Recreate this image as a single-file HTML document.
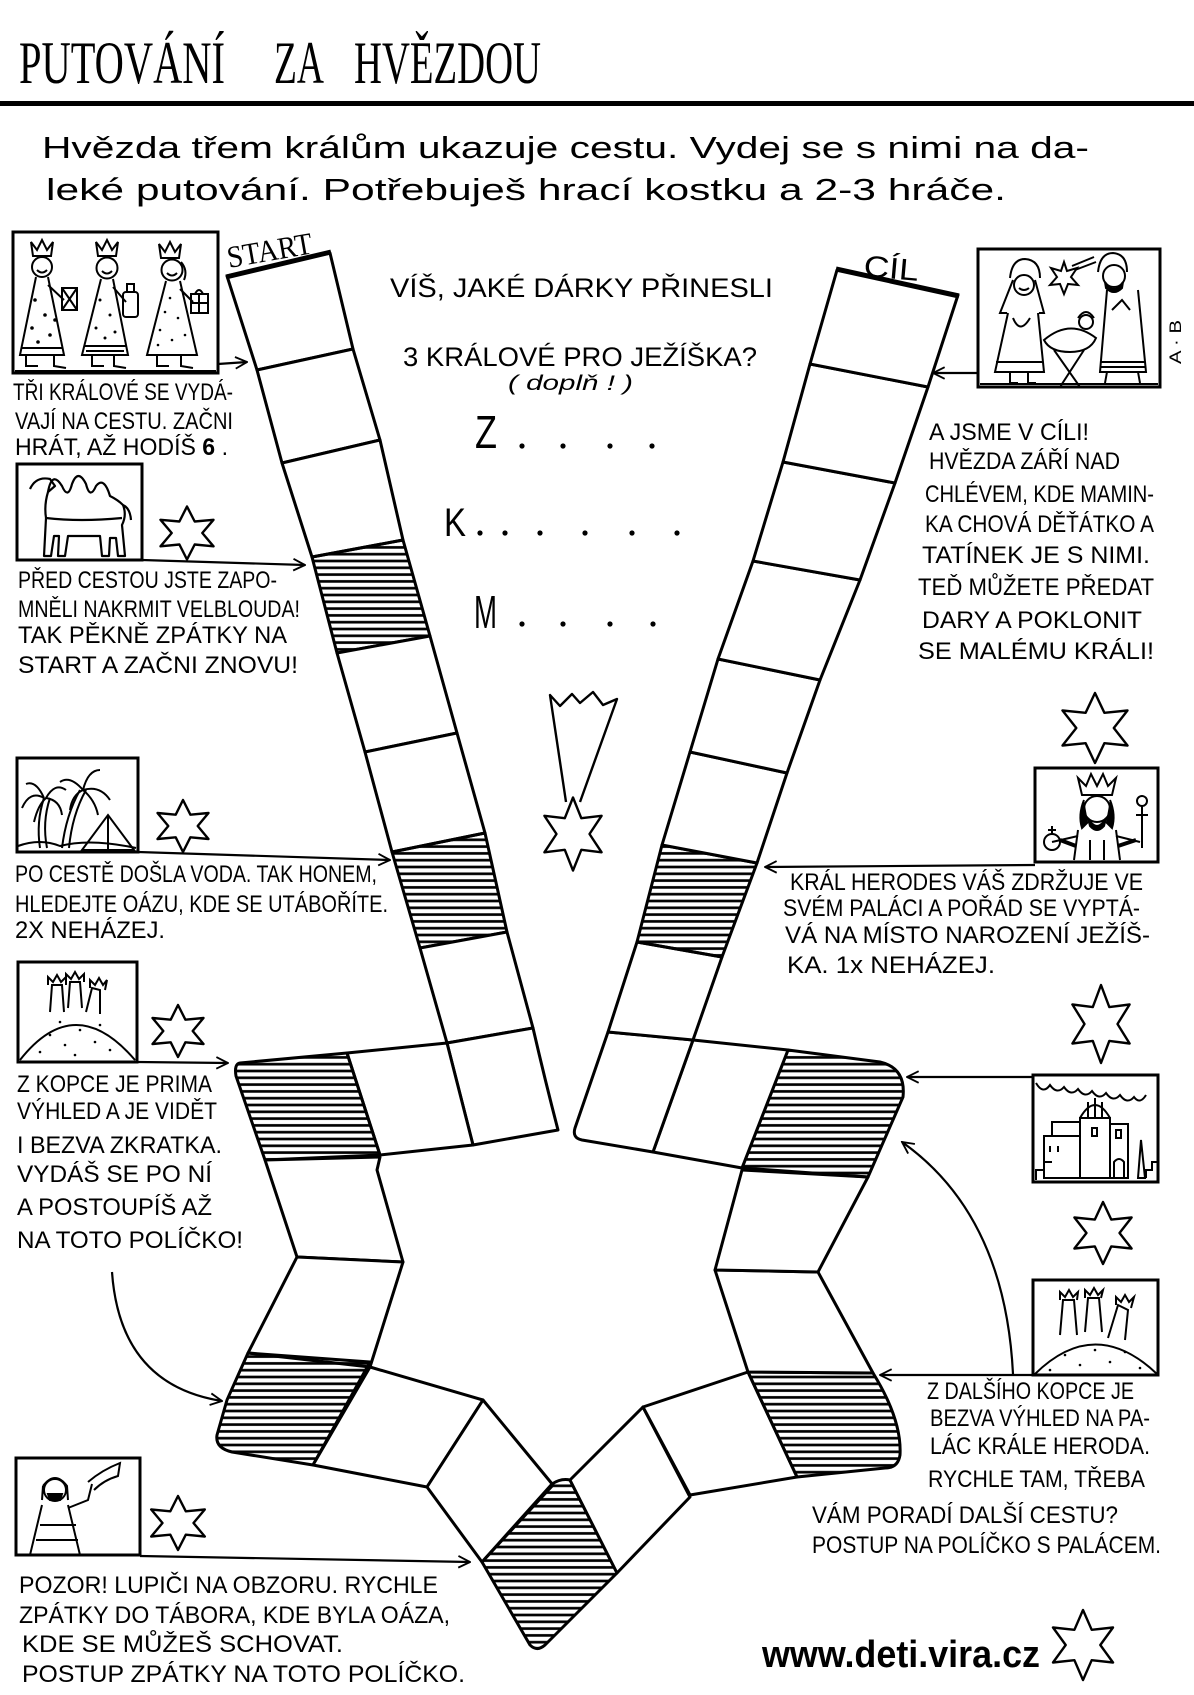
<!DOCTYPE html>
<html><head><meta charset="utf-8"><style>
html,body{margin:0;padding:0;background:#fff;}
svg{display:block;}
.t{font-family:"Liberation Sans",sans-serif;font-size:24px;fill:#000;}
.c{font-family:"Liberation Sans",sans-serif;font-size:27px;fill:#000;}
</style></head><body>
<svg width="1194" height="1695" viewBox="0 0 1194 1695" xmlns="http://www.w3.org/2000/svg">
<defs>
<pattern id="h" patternUnits="userSpaceOnUse" width="20" height="6.8"><line x1="0" y1="3.4" x2="20" y2="3.4" stroke="#000" stroke-width="2.6"/></pattern>
<marker id="a" viewBox="0 0 12 12" refX="11" refY="6" markerWidth="14" markerHeight="14" orient="auto" markerUnits="userSpaceOnUse"><path d="M1 1 L11 6 L1 11" fill="none" stroke="#000" stroke-width="1.6"/></marker>
</defs>
<rect width="1194" height="1695" fill="#fff"/>

<!-- Title -->
<g font-family="Liberation Serif, serif" font-size="60" fill="#000">
<text x="19" y="83" textLength="206" lengthAdjust="spacingAndGlyphs">PUTOVÁNÍ</text>
<text x="274" y="83" textLength="50" lengthAdjust="spacingAndGlyphs">ZA</text>
<text x="354" y="83" textLength="187" lengthAdjust="spacingAndGlyphs">HVĚZDOU</text>
</g>
<rect x="0" y="101" width="1194" height="5" fill="#000"/>

<!-- Intro -->
<g font-family="Liberation Sans, sans-serif" font-size="31" fill="#000">
<text x="42" y="158" textLength="1047" lengthAdjust="spacingAndGlyphs">Hvězda třem králům ukazuje cestu. Vydej se s nimi na da-</text>
<text x="46" y="200" textLength="960" lengthAdjust="spacingAndGlyphs">leké putování. Potřebuješ hrací kostku a 2-3 hráče.</text>
</g>

<!-- Center quiz -->
<text class="c" x="390" y="297" textLength="383" lengthAdjust="spacingAndGlyphs">VÍŠ, JAKÉ DÁRKY PŘINESLI</text>
<text class="c" x="403" y="366" textLength="354" lengthAdjust="spacingAndGlyphs">3 KRÁLOVÉ PRO JEŽÍŠKA?</text>
<text x="508" y="390" font-family="Liberation Sans, sans-serif" font-size="21" font-style="italic" textLength="125" lengthAdjust="spacingAndGlyphs">( doplň ! )</text>
<g font-family="Liberation Sans, sans-serif" fill="#000">
<text x="475" y="448" font-size="46" textLength="22" lengthAdjust="spacingAndGlyphs">Z</text>
<text x="444" y="536" font-size="40" textLength="22" lengthAdjust="spacingAndGlyphs">K</text>
<text x="474" y="628" font-size="46" textLength="23" lengthAdjust="spacingAndGlyphs">M</text>
</g>
<g fill="#000">
<circle cx="522" cy="446" r="2.6"/><circle cx="563" cy="446" r="2.6"/><circle cx="610" cy="446" r="2.6"/><circle cx="652" cy="446" r="2.6"/>
<circle cx="480" cy="533" r="2.6"/><circle cx="505" cy="533" r="2.6"/><circle cx="540" cy="533" r="2.6"/><circle cx="585" cy="533" r="2.6"/><circle cx="632" cy="533" r="2.6"/><circle cx="677" cy="533" r="2.6"/>
<circle cx="522" cy="624" r="2.6"/><circle cx="563" cy="624" r="2.6"/><circle cx="610" cy="624" r="2.6"/><circle cx="653" cy="624" r="2.6"/>
</g>

<!-- Comet -->
<path d="M566 802 L550 695 L560 706 L572 694 L580 703 L593 692 L603 705 L617 699 L580 802" fill="none" stroke="#000" stroke-width="2.4" stroke-linejoin="round"/>

<!-- BOARD -->
<g stroke="#000" stroke-width="3" stroke-linejoin="round" fill="#fff">
<polygon points="227,276 330,253 353,349 257,370"/>
<polygon points="257,370 353,349 380,440 282,463"/>
<polygon points="282,463 380,440 403,540 312,557"/>
<polygon points="312,557 403,540 430,636 337,653" fill="url(#h)"/>
<polygon points="337,653 430,636 457,733 365,752"/>
<polygon points="365,752 457,733 485,833 392,852"/>
<polygon points="392,852 485,833 507,932 420,948" fill="url(#h)"/>
<polygon points="420,948 507,932 533,1028 447,1043"/>
<path d="M447 1043 L533 1028 Q545 1080 558 1130 L473 1145 Z"/>
<polygon points="347,1053 447,1043 473,1145 380,1155"/>
<path d="M240 1063 L347 1053 L380 1155 L265 1160 L236 1076 Q234 1064 240 1063 Z" fill="url(#h)"/>
<polygon points="265,1160 380,1157 377,1170 403,1262 297,1257"/>
<polygon points="297,1257 403,1262 370,1367 248,1353"/>
<path d="M248 1353 L370 1362 L313 1465 L232 1452 Q215 1448 217 1435 L227 1400 Z" fill="url(#h)"/>
<polygon points="370,1367 483,1400 427,1487 313,1465"/>
<polygon points="483,1400 553,1485 482,1562 427,1487"/>
<path d="M552 1484 Q561 1478 570 1480 L617 1573 L545 1645 Q537 1652 530 1645 L482 1562 Z" fill="url(#h)"/>
<polygon points="570,1480 643,1407 690,1497 617,1573"/>
<polygon points="643,1407 748,1372 797,1477 690,1495"/>
<path d="M748 1372 L873 1373 Q902 1420 900 1455 Q898 1468 885 1468 L797 1477 Z" fill="url(#h)"/>
<polygon points="715,1270 818,1272 873,1373 748,1372"/>
<polygon points="742,1170 868,1177 818,1272 715,1270"/>
<path d="M788 1050 L880 1062 Q906 1068 903 1097 L868 1177 L742 1168 Z" fill="url(#h)"/>
<polygon points="693,1040 788,1050 742,1168 653,1152"/>
<path d="M608 1032 L693 1040 L653 1152 L582 1140 Q572 1138 575 1128 Z"/>
<polygon points="637,942 722,957 693,1040 608,1032"/>
<polygon points="662,845 757,863 722,957 637,942" fill="url(#h)"/>
<polygon points="690,752 787,773 757,863 662,845"/>
<polygon points="718,659 820,680 787,773 690,752"/>
<polygon points="753,561 860,580 820,680 718,659"/>
<polygon points="783,462 895,483 860,580 753,561"/>
<polygon points="810,364 928,387 895,483 783,462"/>
<polygon points="837,270 958,295 928,387 810,364"/>
</g>
<line x1="226" y1="277" x2="331" y2="252" stroke="#000" stroke-width="5"/>
<line x1="836" y1="269" x2="959" y2="296" stroke="#000" stroke-width="5"/>
<text x="229" y="268" font-family="Liberation Serif, serif" font-size="31" transform="rotate(-10 229 268)" textLength="86" lengthAdjust="spacingAndGlyphs">START</text>
<text x="863" y="276" font-family="Liberation Sans, sans-serif" font-size="30" transform="rotate(5 863 276)" textLength="55" lengthAdjust="spacingAndGlyphs">CÍL</text>

<!-- Stars -->
<g fill="#fff" stroke="#000" stroke-width="2.4" stroke-linejoin="round">
<polygon points="573,797.5 581.3,818.2 601.6,815.8 589.5,834 601.6,852.3 581.3,849.8 573,870.5 564.8,849.8 544.4,852.3 556.5,834 544.4,815.8 564.8,818.2"/>
<polygon points="187,506.5 194.7,521.5 213.5,519.8 202.3,533 213.5,546.3 194.7,544.5 187,559.5 179.4,544.5 160.5,546.3 171.7,533 160.5,519.8 179.4,521.5"/>
<polygon points="183,800 190.4,814.7 208.5,813 197.7,826 208.5,839 190.4,837.3 183,852 175.7,837.3 157.5,839 168.3,826 157.5,813 175.7,814.7"/>
<polygon points="178,1005 185.4,1019.7 203.5,1018 192.7,1031 203.5,1044 185.4,1042.3 178,1057 170.7,1042.3 152.5,1044 163.3,1031 152.5,1018 170.7,1019.7"/>
<polygon points="178,1496 185.8,1511.3 204.8,1509.5 193.5,1523 204.8,1536.5 185.8,1534.7 178,1550 170.3,1534.7 151.2,1536.5 162.5,1523 151.2,1509.5 170.3,1511.3"/>
<polygon points="1095,693 1104.4,712.8 1127.5,710.5 1113.8,728 1127.5,745.5 1104.4,743.2 1095,763 1085.6,743.2 1062.5,745.5 1076.3,728 1062.5,710.5 1085.6,712.8"/>
<polygon points="1101,985 1109.3,1007.1 1129.6,1004.5 1117.5,1024 1129.6,1043.5 1109.3,1040.9 1101,1063 1092.8,1040.9 1072.4,1043.5 1084.5,1024 1072.4,1004.5 1092.8,1007.1"/>
<polygon points="1103,1202 1111.3,1219.6 1131.6,1217.5 1119.5,1233 1131.6,1248.5 1111.3,1246.4 1103,1264 1094.8,1246.4 1074.4,1248.5 1086.5,1233 1074.4,1217.5 1094.8,1219.6"/>
<polygon points="1083,1610 1091.7,1629.8 1113,1627.5 1100.3,1645 1113,1662.5 1091.7,1660.2 1083,1680 1074.4,1660.2 1053,1662.5 1065.7,1645 1053,1627.5 1074.4,1629.8"/>
</g>

<!-- Boxes -->
<g fill="none" stroke="#000" stroke-width="3">
<rect x="13" y="232" width="205" height="141"/>
<rect x="17" y="464" width="125" height="96"/>
<rect x="17" y="758" width="121" height="94"/>
<rect x="18" y="962" width="119" height="100"/>
<rect x="16" y="1458" width="124" height="97"/>
<rect x="978" y="249" width="182" height="138"/>
<rect x="1035" y="768" width="123" height="94"/>
<rect x="1033" y="1075" width="125" height="107"/>
<rect x="1033" y="1280" width="125" height="95"/>
</g>

<!-- Arrows -->
<g fill="none" stroke="#000" stroke-width="2.2">
<line x1="218" y1="364" x2="247" y2="362" marker-end="url(#a)"/>
<line x1="142" y1="560" x2="305" y2="565" marker-end="url(#a)"/>
<line x1="138" y1="852" x2="390" y2="860" marker-end="url(#a)"/>
<line x1="137" y1="1062" x2="228" y2="1063" marker-end="url(#a)"/>
<path d="M112 1272 Q120 1385 222 1401" marker-end="url(#a)"/>
<line x1="140" y1="1556" x2="470" y2="1562" marker-end="url(#a)"/>
<line x1="978" y1="373" x2="933" y2="373" marker-end="url(#a)"/>
<line x1="1035" y1="865" x2="765" y2="867" marker-end="url(#a)"/>
<line x1="1033" y1="1077" x2="907" y2="1077" marker-end="url(#a)"/>
<line x1="1033" y1="1375" x2="880" y2="1375" marker-end="url(#a)"/>
<path d="M1013 1374 Q1005 1215 902 1142" marker-end="url(#a)"/>
</g>

<!-- Kings picture -->
<g fill="none" stroke="#000" stroke-width="2">
<polygon points="33,256 31,242 37,250 42,240 47,250 53,242 51,256"/>
<circle cx="42" cy="267" r="10"/><path d="M37 270 Q42 275 47 270"/>
<path d="M36 277 L20 355 L64 355 L48 277"/>
<path d="M48 285 L64 300"/><rect x="62" y="288" width="15" height="22"/><path d="M62 288 L77 310 M77 288 L62 310"/>
<path d="M26 355 L26 366 L38 366 M54 355 L54 366 L66 368"/>
<path d="M22 348 L62 348"/>
<polygon points="98,256 96,242 102,250 107,240 112,250 118,242 116,256"/>
<circle cx="107" cy="268" r="10.5"/><path d="M102 271 Q107 276 112 271"/>
<path d="M101 279 L82 355 L128 355 L113 279"/>
<path d="M113 287 L126 302"/><rect x="123" y="292" width="15" height="25" rx="3"/><rect x="127" y="284" width="7" height="8"/>
<path d="M92 355 L92 366 L104 366 M114 355 L114 366 L126 368"/>
<path d="M84 346 L126 346 M86 351 L124 351"/>
<polygon points="161,258 159,244 165,252 170,242 175,252 181,244 179,258"/>
<circle cx="172" cy="270" r="10.5"/><path d="M167 273 Q172 278 177 273"/><path d="M181 262 Q188 270 184 280"/>
<path d="M166 281 L147 355 L197 355 L180 281"/>
<path d="M180 289 L193 302"/><rect x="191" y="294" width="17" height="19"/><path d="M199 294 L199 313 M191 303 L208 303 M195 294 Q199 286 203 294"/>
<path d="M157 355 L157 366 L169 366 M181 355 L181 366 L193 368"/>
<path d="M15 371 L216 371"/>
</g>
<g fill="#000">
<circle cx="35" cy="300" r="1.8"/><circle cx="45" cy="315" r="1.8"/><circle cx="32" cy="328" r="1.8"/><circle cx="50" cy="335" r="1.8"/><circle cx="38" cy="342" r="1.8"/><circle cx="55" cy="320" r="1.8"/>
<circle cx="100" cy="300" r="1.5"/><circle cx="110" cy="315" r="1.5"/><circle cx="96" cy="328" r="1.5"/><circle cx="115" cy="332" r="1.5"/><circle cx="105" cy="338" r="1.5"/>
<circle cx="170" cy="298" r="1.3"/><circle cx="165" cy="312" r="1.3"/><circle cx="178" cy="318" r="1.3"/><circle cx="160" cy="330" r="1.3"/><circle cx="185" cy="335" r="1.3"/><circle cx="172" cy="340" r="1.3"/><circle cx="158" cy="345" r="1.3"/>
</g>

<!-- Camel -->
<g fill="none" stroke="#000" stroke-width="2.2" stroke-linejoin="round">
<path d="M30 489 Q36 476 50 479 L55 486 L48 492 Q44 505 46 518 L44 556 L51 556 L54 536 L59 536 L58 556 L65 556 L68 536 L100 536 L102 556 L109 556 L110 538 L116 538 L118 556 L125 556 L122 525 Q127 515 123 505"/>
<path d="M48 492 Q52 470 62 486 Q68 500 72 484 Q78 468 86 484 Q90 500 96 486 Q104 476 110 496 Q118 500 123 505 Q130 508 131 520"/>
<path d="M46 518 Q80 522 122 518"/>
</g>

<!-- Palms -->
<g fill="none" stroke="#000" stroke-width="2">
<path d="M40 848 Q36 822 44 798"/><path d="M47 848 Q42 822 50 798"/>
<path d="M62 848 Q66 815 80 790"/><path d="M69 848 Q72 815 86 790"/>
<path d="M44 798 Q30 790 22 808 M44 798 Q36 780 26 784 M46 798 Q55 782 66 790 M46 798 Q60 800 62 815 M46 798 Q38 805 34 822"/>
<path d="M83 790 Q70 775 60 782 M83 790 Q88 770 100 770 M83 790 Q100 785 110 800 M83 790 Q95 800 98 815 M83 790 Q72 795 70 810"/>
<polygon points="82,850 108,815 134,850"/><line x1="108" y1="815" x2="108" y2="850"/>
<path d="M18 846 Q40 838 60 846 Q90 838 136 848"/>
</g>

<!-- Hill kings left -->
<g fill="none" stroke="#000" stroke-width="2">
<path d="M20 1060 Q75 990 135 1060"/>
<path d="M50 1012 L52 985 L62 985 L64 1012 M48 985 L48 977 L53 982 L57 975 L61 982 L66 977 L66 985"/>
<path d="M68 1008 L70 982 L80 982 L82 1008 M66 982 L66 974 L71 979 L75 972 L79 979 L84 974 L84 982"/>
<path d="M86 1012 L92 988 L100 990 L100 1014 M90 988 L90 980 L95 985 L99 978 L103 985 L107 980 L105 990"/>
</g>
<g fill="#000"><circle cx="50" cy="1035" r="1.3"/><circle cx="65" cy="1045" r="1.3"/><circle cx="80" cy="1030" r="1.3"/><circle cx="95" cy="1042" r="1.3"/><circle cx="110" cy="1050" r="1.3"/><circle cx="40" cy="1052" r="1.3"/><circle cx="75" cy="1055" r="1.3"/><circle cx="100" cy="1025" r="1.3"/><circle cx="60" cy="1022" r="1.3"/></g>

<!-- Robber -->
<g fill="none" stroke="#000" stroke-width="2">
<circle cx="55" cy="1490" r="11"/><path d="M43 1486 Q55 1470 67 1486 L68 1500 M43 1486 L42 1500"/>
<path d="M48 1494 L62 1494 L60 1500 L50 1500 Z" fill="#000"/>
<path d="M42 1505 L30 1555 M68 1505 L80 1555"/>
<path d="M68 1508 L88 1500 L92 1484"/>
<path d="M88 1482 Q102 1470 120 1463 L118 1476 Q104 1480 94 1490"/>
<path d="M40 1525 L76 1525 M36 1540 L78 1540"/>
</g>

<!-- Mary box drawing -->
<g fill="none" stroke="#000" stroke-width="2">
<path d="M1010 278 Q1012 259 1025 259 Q1040 260 1040 278"/>
<circle cx="1024" cy="285" r="10"/><path d="M1019 288 Q1024 292 1029 288"/>
<path d="M1013 280 L1000 313 L1007 313 M1035 280 L1044 313 L1039 313"/>
<path d="M1008 313 L995 372 L1044 372 L1038 313"/>
<path d="M996 362 L1043 362"/>
<path d="M1010 372 L1010 383 L1018 383 M1028 372 L1028 383 L1036 383"/>
<path d="M1013 318 Q1020 335 1030 318"/>
<polygon points="1064,262 1067,271 1077,268 1071,277 1078,285 1068,284 1064,294 1060,284 1050,285 1057,277 1051,268 1061,271"/>
<path d="M1072 266 L1094 257 M1075 270 L1096 262"/>
<path d="M1098 272 Q1100 253 1113 253 Q1127 254 1127 272"/>
<circle cx="1114" cy="276" r="11"/><path d="M1105 282 Q1114 296 1123 282 L1122 288 Q1114 296 1106 288 Z" fill="#000"/>
<path d="M1107 290 L1100 372 L1146 372 L1138 290"/>
<path d="M1112 310 L1122 300 L1130 310"/>
<path d="M1101 362 L1145 362 M1101 367 L1145 367"/>
<path d="M1107 372 L1105 383 M1138 372 L1140 383"/>
<path d="M1044 340 Q1070 318 1096 338 Q1090 352 1070 352 Q1050 352 1044 340 Z"/>
<path d="M1054 350 L1080 387 M1084 350 L1060 387"/>
<circle cx="1086" cy="322" r="7"/>
<path d="M1078 318 Q1086 306 1094 318"/>
<path d="M980 384 L1158 384"/>
</g>
<text x="0" y="0" font-family="Liberation Sans, sans-serif" font-size="17" transform="translate(1181,364) rotate(-90)" textLength="44" lengthAdjust="spacingAndGlyphs">A · B</text>

<!-- Herod -->
<g fill="none" stroke="#000" stroke-width="2">
<polygon points="1082,795 1078,778 1086,786 1091,774 1097,786 1103,774 1108,786 1116,778 1112,795"/>
<circle cx="1097" cy="809" r="13"/>
<path d="M1084 800 Q1078 815 1082 828 L1088 822 M1110 800 Q1116 815 1112 828 L1106 822" fill="#000"/>
<path d="M1088 818 Q1097 834 1106 818 L1104 826 Q1097 834 1090 826 Z" fill="#000"/>
<path d="M1078 830 L1074 860 M1116 830 L1120 860"/>
<path d="M1078 836 L1052 842 M1116 836 L1140 842"/>
<path d="M1060 840 L1076 846 M1118 846 L1136 840" stroke-width="4"/>
<circle cx="1052" cy="842" r="8"/><path d="M1052 834 L1052 826 M1048 830 L1056 830"/>
<path d="M1142 848 L1142 806"/><circle cx="1142" cy="801" r="5"/><path d="M1136 815 L1148 815"/>
<path d="M1090 840 L1090 860 M1104 840 L1104 860"/>
</g>

<!-- Palace -->
<g fill="none" stroke="#000" stroke-width="2">
<path d="M1036 1083 q7 12 14 2 q7 10 14 2 q7 10 14 2 q7 10 14 2 q7 10 14 2 q7 10 14 2 q7 10 14 2 q6 8 12 -2"/>
<rect x="1080" y="1118" width="30" height="60"/>
<path d="M1080 1118 Q1095 1092 1110 1118 M1088 1118 L1088 1102 M1095 1118 L1095 1098 M1102 1118 L1102 1102"/>
<rect x="1092" y="1128" width="5" height="8"/>
<rect x="1052" y="1122" width="28" height="14"/>
<rect x="1044" y="1136" width="36" height="42"/>
<path d="M1036 1180 L1036 1170 L1044 1170 L1044 1162 L1052 1162"/>
<path d="M1050 1146 L1050 1152 M1058 1146 L1058 1152"/>
<rect x="1110" y="1124" width="18" height="54"/>
<rect x="1116" y="1130" width="5" height="8"/>
<path d="M1128 1150 L1128 1178 M1114 1178 L1114 1162 Q1119 1156 1124 1162 L1124 1178"/>
<path d="M1138 1178 L1141 1140 L1145 1178 Z"/>
<path d="M1146 1178 L1146 1170 L1152 1170 L1152 1162 L1158 1162"/>
</g>

<!-- Hill kings right -->
<g fill="none" stroke="#000" stroke-width="2">
<path d="M1035 1374 Q1095 1315 1157 1374"/>
<path d="M1060 1335 L1063 1300 L1074 1300 L1077 1335 M1060 1300 L1060 1292 L1065 1297 L1069 1290 L1073 1297 L1078 1292 L1077 1300"/>
<path d="M1085 1332 L1088 1298 L1099 1298 L1102 1332 M1085 1298 L1085 1290 L1090 1295 L1094 1288 L1098 1295 L1103 1290 L1101 1298"/>
<path d="M1108 1338 L1118 1305 L1128 1310 L1125 1340 M1116 1305 L1116 1297 L1121 1302 L1125 1295 L1129 1302 L1134 1297 L1131 1308"/>
</g>
<g fill="#000"><circle cx="1065" cy="1355" r="1.3"/><circle cx="1080" cy="1365" r="1.3"/><circle cx="1095" cy="1350" r="1.3"/><circle cx="1110" cy="1362" r="1.3"/><circle cx="1125" cy="1352" r="1.3"/><circle cx="1140" cy="1368" r="1.3"/><circle cx="1050" cy="1370" r="1.3"/></g>

<!-- Left texts -->
<text class="t" x="13" y="400" textLength="220" lengthAdjust="spacingAndGlyphs">TŘI KRÁLOVÉ SE VYDÁ-</text>
<text class="t" x="15" y="429" textLength="218" lengthAdjust="spacingAndGlyphs">VAJÍ NA CESTU. ZAČNI</text>
<text class="t" x="15" y="455" textLength="213" lengthAdjust="spacingAndGlyphs">HRÁT, AŽ HODÍŠ <tspan font-weight="bold">6</tspan> .</text>
<text class="t" x="18" y="588" textLength="259" lengthAdjust="spacingAndGlyphs">PŘED CESTOU JSTE ZAPO-</text>
<text class="t" x="18" y="617" textLength="282" lengthAdjust="spacingAndGlyphs">MNĚLI NAKRMIT VELBLOUDA!</text>
<text class="t" x="18" y="643" textLength="269" lengthAdjust="spacingAndGlyphs">TAK PĚKNĚ ZPÁTKY NA</text>
<text class="t" x="18" y="673" textLength="280" lengthAdjust="spacingAndGlyphs">START A ZAČNI ZNOVU!</text>
<text class="t" x="15" y="882" textLength="362" lengthAdjust="spacingAndGlyphs">PO CESTĚ DOŠLA VODA. TAK HONEM,</text>
<text class="t" x="15" y="912" textLength="373" lengthAdjust="spacingAndGlyphs">HLEDEJTE OÁZU, KDE SE UTÁBOŘÍTE.</text>
<text class="t" x="15" y="938" textLength="150" lengthAdjust="spacingAndGlyphs">2X NEHÁZEJ.</text>
<text class="t" x="17" y="1092" textLength="195" lengthAdjust="spacingAndGlyphs">Z KOPCE JE PRIMA</text>
<text class="t" x="17" y="1119" textLength="200" lengthAdjust="spacingAndGlyphs">VÝHLED A JE VIDĚT</text>
<text class="t" x="17" y="1153" textLength="205" lengthAdjust="spacingAndGlyphs">I BEZVA ZKRATKA.</text>
<text class="t" x="17" y="1182" textLength="195" lengthAdjust="spacingAndGlyphs">VYDÁŠ SE PO NÍ</text>
<text class="t" x="17" y="1215" textLength="195" lengthAdjust="spacingAndGlyphs">A POSTOUPÍŠ AŽ</text>
<text class="t" x="17" y="1248" textLength="226" lengthAdjust="spacingAndGlyphs">NA TOTO POLÍČKO!</text>
<text class="t" x="19" y="1593" textLength="419" lengthAdjust="spacingAndGlyphs">POZOR! LUPIČI NA OBZORU. RYCHLE</text>
<text class="t" x="19" y="1623" textLength="431" lengthAdjust="spacingAndGlyphs">ZPÁTKY DO TÁBORA, KDE BYLA OÁZA,</text>
<text class="t" x="22" y="1652" textLength="321" lengthAdjust="spacingAndGlyphs">KDE SE MŮŽEŠ SCHOVAT.</text>
<text class="t" x="22" y="1682" textLength="443" lengthAdjust="spacingAndGlyphs">POSTUP ZPÁTKY NA TOTO POLÍČKO.</text>

<!-- Right texts -->
<text class="t" x="929" y="440" textLength="160" lengthAdjust="spacingAndGlyphs">A JSME V CÍLI!</text>
<text class="t" x="929" y="469" textLength="191" lengthAdjust="spacingAndGlyphs">HVĚZDA ZÁŘÍ NAD</text>
<text class="t" x="925" y="502" textLength="229" lengthAdjust="spacingAndGlyphs">CHLÉVEM, KDE MAMIN-</text>
<text class="t" x="925" y="532" textLength="229" lengthAdjust="spacingAndGlyphs">KA CHOVÁ DĚŤÁTKO A</text>
<text class="t" x="922" y="563" textLength="228" lengthAdjust="spacingAndGlyphs">TATÍNEK JE S NIMI.</text>
<text class="t" x="918" y="595" textLength="236" lengthAdjust="spacingAndGlyphs">TEĎ MŮŽETE PŘEDAT</text>
<text class="t" x="922" y="628" textLength="220" lengthAdjust="spacingAndGlyphs">DARY A POKLONIT</text>
<text class="t" x="918" y="659" textLength="236" lengthAdjust="spacingAndGlyphs">SE MALÉMU KRÁLI!</text>
<text class="t" x="790" y="890" textLength="353" lengthAdjust="spacingAndGlyphs">KRÁL HERODES VÁŠ ZDRŽUJE VE</text>
<text class="t" x="783" y="916" textLength="357" lengthAdjust="spacingAndGlyphs">SVÉM PALÁCI A POŘÁD SE VYPTÁ-</text>
<text class="t" x="785" y="943" textLength="365" lengthAdjust="spacingAndGlyphs">VÁ NA MÍSTO NAROZENÍ JEŽÍŠ-</text>
<text class="t" x="787" y="973" textLength="208" lengthAdjust="spacingAndGlyphs">KA. 1x NEHÁZEJ.</text>
<text class="t" x="927" y="1399" textLength="207" lengthAdjust="spacingAndGlyphs">Z DALŠÍHO KOPCE JE</text>
<text class="t" x="930" y="1426" textLength="220" lengthAdjust="spacingAndGlyphs">BEZVA VÝHLED NA PA-</text>
<text class="t" x="930" y="1454" textLength="220" lengthAdjust="spacingAndGlyphs">LÁC KRÁLE HERODA.</text>
<text class="t" x="928" y="1487" textLength="217" lengthAdjust="spacingAndGlyphs">RYCHLE TAM, TŘEBA</text>
<text class="t" x="812" y="1523" textLength="306" lengthAdjust="spacingAndGlyphs">VÁM PORADÍ DALŠÍ CESTU?</text>
<text class="t" x="812" y="1553" textLength="349" lengthAdjust="spacingAndGlyphs">POSTUP NA POLÍČKO S PALÁCEM.</text>

<text x="762" y="1667" font-family="Liberation Sans, sans-serif" font-weight="bold" font-size="38" textLength="278" lengthAdjust="spacingAndGlyphs">www.deti.vira.cz</text>
</svg>
</body></html>
